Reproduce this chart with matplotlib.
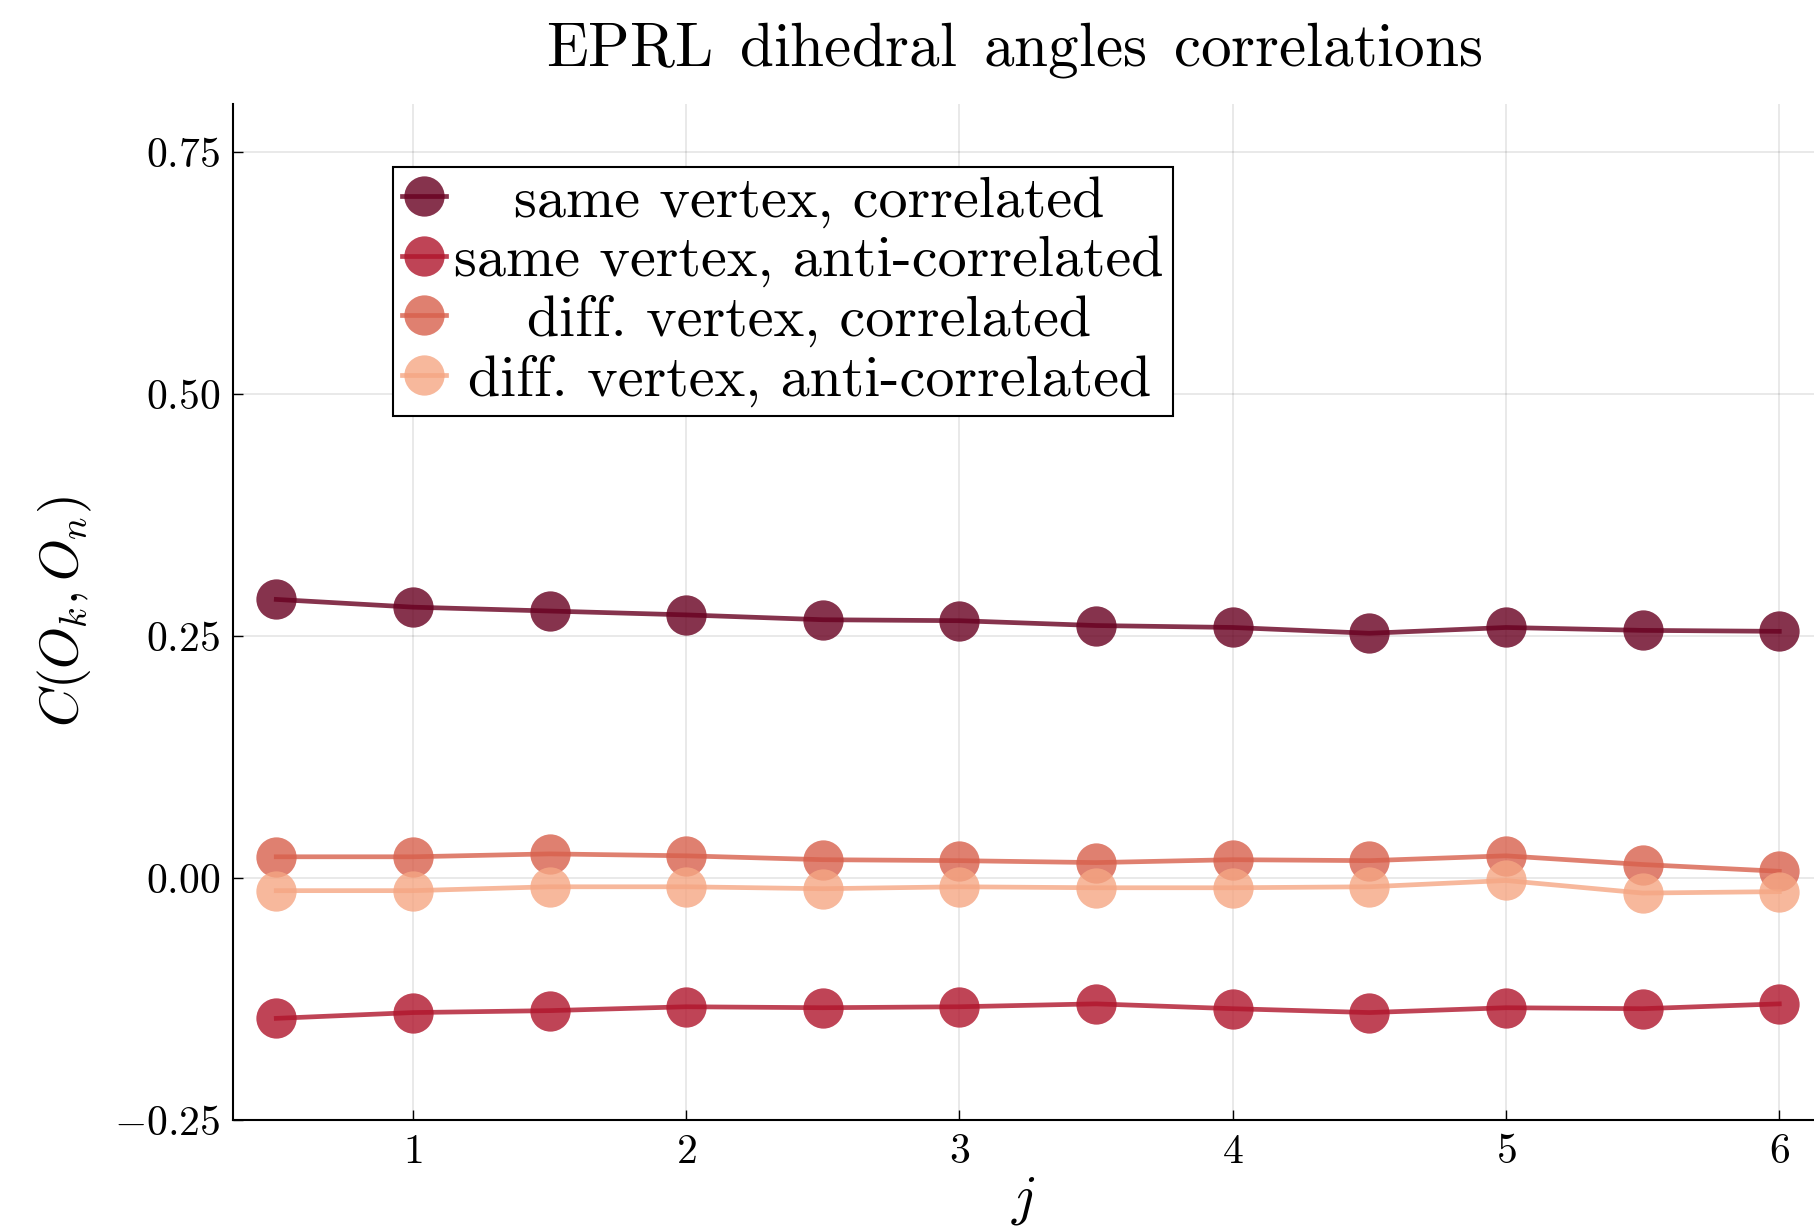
import numpy as np
import matplotlib
matplotlib.use('Agg')
import matplotlib.pyplot as plt
from matplotlib.offsetbox import HPacker, DrawingArea
from matplotlib.ticker import FuncFormatter

# spins
j = [0.5, 1.0, 1.5, 2.0, 2.5, 3.0, 3.5, 4.0, 4.5, 5.0, 5.5, 6.0]

# correlations
same_corr = [0.288, 0.280, 0.276, 0.272, 0.267, 0.266, 0.261, 0.259, 0.253, 0.259, 0.256, 0.255]
same_anti = [-0.145, -0.139, -0.137, -0.133, -0.134, -0.133, -0.130, -0.135, -0.139, -0.134, -0.135, -0.130]
diff_corr = [0.022, 0.022, 0.025, 0.023, 0.019, 0.018, 0.016, 0.019, 0.018, 0.023, 0.014, 0.007]
diff_anti = [-0.013, -0.013, -0.009, -0.009, -0.011, -0.009, -0.010, -0.010, -0.009, -0.0025, -0.0155, -0.014]

labels = ['same vertex, correlated', 'same vertex, anti-correlated',
          'diff. vertex, correlated', 'diff. vertex, anti-correlated']
colors = ['#680020', '#b0152c', '#d8604c', '#f5a683']

yticks = [-0.25, 0.0, 0.25, 0.50, 0.75]
xticks = [1, 2, 3, 4, 5, 6]

plt.rcParams['font.family'] = 'cmr10'
plt.rcParams['mathtext.fontset'] = 'cm'
plt.rcParams['axes.unicode_minus'] = False

fig = plt.figure(figsize=(18.14, 12.31), dpi=100)
ax = fig.add_axes([0.1282, 0.0902, 0.8718, 0.8253])

for ys, c, lab in zip([same_corr, same_anti, diff_corr, diff_anti], colors, labels):
    ax.plot(j, ys, color=c, alpha=0.8, lw=3.4, marker='o', ms=29, mew=0, label=lab)

ax.set_xlim(0.34, 6.127)
ax.set_ylim(-0.25, 0.8)
ax.set_xticks(xticks)
ax.set_yticks(yticks)
ax.xaxis.set_major_formatter(FuncFormatter(lambda v, p: f'${v:g}$'))
ax.yaxis.set_major_formatter(FuncFormatter(lambda v, p: f'${v:.2f}$'))
ax.tick_params(direction='in', length=7, width=1, labelsize=30)
ax.tick_params(axis='y', pad=9)
ax.tick_params(axis='x', pad=10)

for s in ['top', 'right']:
    ax.spines[s].set_visible(False)
for s in ['left', 'bottom']:
    ax.spines[s].set_linewidth(1.5)

ax.grid(True, color='k', alpha=0.1, lw=1.2)
ax.set_axisbelow(True)

# wider word gaps, as in the original title
ax.set_title(r'$\mathrm{EPRL\ \,dihedral\ \,angles\ \,correlations}$', fontsize=44,
             pad=28, x=0.494)
ax.set_ylabel(r'$C(O_k,O_n)$', fontsize=38.5, labelpad=14)
ax.set_xlabel(r'$j$', fontsize=40, labelpad=3)

leg = ax.legend(loc='upper left', bbox_to_anchor=(0.1014, 0.938), fontsize=41.8,
                frameon=True, fancybox=False, edgecolor='k', framealpha=1,
                borderpad=0.15, labelspacing=0.13, handlelength=0.76,
                handletextpad=0.15, borderaxespad=0)
leg.get_frame().set_linewidth(1.5)

# center legend texts like the original
fig.canvas.draw()
wmax = max(t.get_window_extent().width for t in leg.get_texts())
for col in leg._legend_handle_box.get_children():
    for item in col.get_children():
        h, t = item.get_children()
        box = HPacker(pad=0, sep=0, width=wmax, mode='expand', align='baseline',
                      children=[DrawingArea(0, 0), t, DrawingArea(0, 0)])
        item._children = [h, box]

fig.savefig('out.png', dpi=100)
